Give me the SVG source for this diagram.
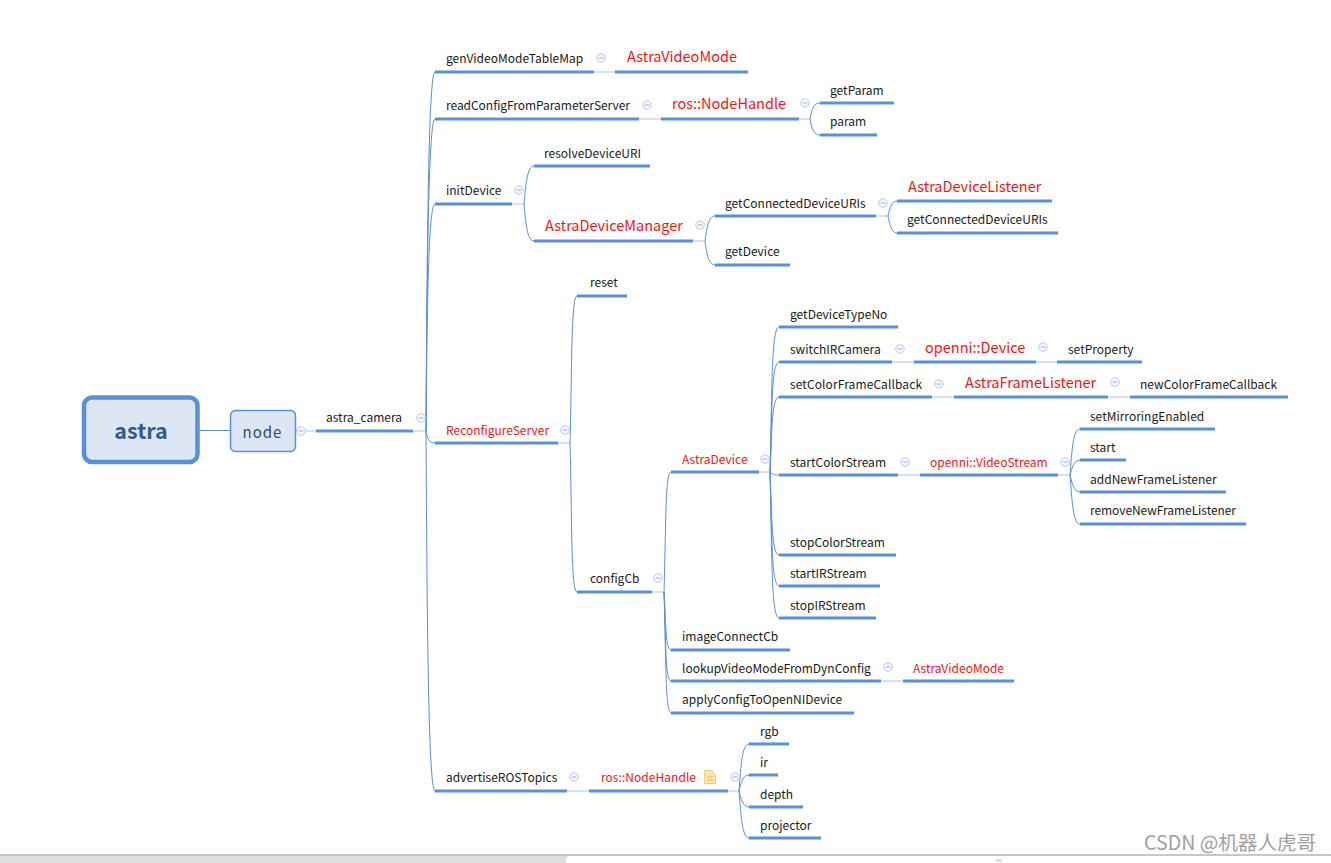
<svg xmlns="http://www.w3.org/2000/svg" xmlns:xlink="http://www.w3.org/1999/xlink" width="1331" height="863" viewBox="0 0 1331 863">
<style>
text{font-family:"Noto Sans CJK SC","Noto Sans",sans-serif;font-size:12px;fill:#1a1a1a}
.r{fill:#ff1010}
.b{font-size:14.500px}
.u{stroke:#5a8fd9;stroke-width:3;fill:none}
.c{stroke:#5a8fd9;stroke-width:1;fill:none}
.l{stroke:#a9c6ec;stroke-width:1.2;fill:none}
</style>
<defs>
<g id="m"><circle r="4.3" fill="#f4f6fb" stroke="#bccbe8" stroke-width="1"/><path d="M-2.3 0H2.3" stroke="#9db2dc" stroke-width="1"/></g>
</defs>
<rect width="1331" height="863" fill="#fff"/>
<g id="connectors">
<path class="c" d="M199 430.500H230"/>
<path class="l" d="M296 431H316M413 431H426"/>
<g id="c-camera"><path class="c" d="M426 431C427 270 428 72 435 72"/><path class="c" d="M426 431C427 290 428 119 435 119"/><path class="c" d="M426 431C427 320 428 204 435 204"/><path class="c" d="M426 431C427 438 429 443 435 443"/><path class="c" d="M426 431C427 600 428 791 435 791"/></g>
<path class="l" d="M594 72H615M639 119H661M799 119H810M512 204H524M558 443H570M652 592H664M759 472H770M876 216H888M693 241H705M892 362H914M1036 362H1057M932 397H954M1108 397H1130M898 475H920M1058 475H1070M881 681H903M567 791H589M728 791H739"/>
<path class="c" d="M810 119C812 108 814 103 820 103M810 119C812 130 814 135 820 135"/>
<path class="c" d="M524 204C526 180 528 166 534 166M524 204C526 228 528 241 534 241"/>
<path class="c" d="M705 241C707 226 709 216 715 216M705 241C707 256 709 265 715 265"/>
<path class="c" d="M888 216C890 207 892 201 897 201M888 216C890 226 892 233 897 233"/>
<path class="c" d="M570 443C572 370 571 296 577 296M570 443C572 520 571 592 577 592"/>
<path class="c" d="M664 592C666 530 665 472 671 472M664 592C666 620 665 650 671 650M664 592C666 640 665 681 671 681M664 592C666 650 665 713 671 713"/>
<path class="c" d="M770 472C772 400 771 327 779 327M770 472C772 420 771 362 779 362M770 472C772 440 771 397 779 397M770 472C772 474 774 475 779 475M770 472C772 510 771 555 779 555M770 472C772 530 771 586 779 586M770 472C772 550 771 618 779 618"/>
<path class="c" d="M1070 475C1072 450 1073 429 1080 429M1070 475C1072 468 1074 460 1080 460M1070 475C1072 483 1074 492 1080 492M1070 475C1072 500 1073 524 1080 524"/>
<path class="c" d="M739 791C741 765 742 744 749 744M739 791C741 783 743 775 749 775M739 791C741 799 743 807 749 807M739 791C741 815 742 838 749 838"/>
</g>
<g id="astra"><rect x="84" y="397.500" width="113.500" height="64.500" rx="8" fill="#dde6f3" stroke="#5a8fd9" stroke-width="4.500"/><text x="141" y="438.500" text-anchor="middle" style="font-size:21.500px;font-weight:700;fill:#2f5b8f">astra</text></g>
<g id="node"><rect x="230.500" y="410.500" width="65" height="41" rx="5" fill="#dde6f3" stroke="#5a8fd9" stroke-width="1.500"/><text x="262.500" y="437.500" text-anchor="middle" style="font-size:15px;fill:#2f4a75;letter-spacing:1px">node</text><use href="#m" x="301" y="431"/></g>
<g id="astra_camera"><text x="326" y="422">astra_camera</text><path class="u" d="M316 431H413"/><use href="#m" x="421" y="418"/></g>
<g id="genVideoModeTableMap"><text x="446" y="63">genVideoModeTableMap</text><path class="u" d="M435 72H594"/><use href="#m" x="601" y="58"/></g>
<g id="AstraVideoMode1"><text class="r b" x="627" y="62">AstraVideoMode</text><path class="u" d="M615 72H748"/></g>
<g id="readConfig"><text x="446" y="110" textLength="184">readConfigFromParameterServer</text><path class="u" d="M435 119H639"/><use href="#m" x="647" y="105"/></g>
<g id="NodeHandle1"><text class="r b" x="672" y="109">ros::NodeHandle</text><path class="u" d="M661 119H799"/><use href="#m" x="805" y="103"/></g>
<g id="getParam"><text x="830" y="95">getParam</text><path class="u" d="M820 103H894"/></g>
<g id="param"><text x="830" y="126">param</text><path class="u" d="M820 135H877"/></g>
<g id="initDevice"><text x="446" y="195">initDevice</text><path class="u" d="M435 204H512"/><use href="#m" x="519" y="190"/></g>
<g id="resolveDeviceURI"><text x="544" y="158">resolveDeviceURI</text><path class="u" d="M534 166H650"/></g>
<g id="AstraDeviceManager"><text class="r b" x="545" y="231">AstraDeviceManager</text><path class="u" d="M534 241H693"/><use href="#m" x="700" y="225"/></g>
<g id="getConnected1"><text x="725" y="208">getConnectedDeviceURIs</text><path class="u" d="M715 216H876"/><use href="#m" x="883" y="203"/></g>
<g id="AstraDeviceListener"><text class="r b" x="908" y="192">AstraDeviceListener</text><path class="u" d="M897 201H1052"/></g>
<g id="getConnected2"><text x="907" y="224">getConnectedDeviceURIs</text><path class="u" d="M897 233H1058"/></g>
<g id="getDevice"><text x="725" y="256">getDevice</text><path class="u" d="M715 265H790"/></g>
<g id="ReconfigureServer"><text class="r" x="446" y="435">ReconfigureServer</text><path class="u" d="M435 443H558"/><use href="#m" x="565" y="430"/></g>
<g id="reset"><text x="590" y="287">reset</text><path class="u" d="M577 296H627"/></g>
<g id="configCb"><text x="590" y="583">configCb</text><path class="u" d="M577 592H652"/><use href="#m" x="658" y="578"/></g>
<g id="AstraDevice"><text class="r" x="682" y="464">AstraDevice</text><path class="u" d="M671 472H759"/><use href="#m" x="765" y="459"/></g>
<g id="getDeviceTypeNo"><text x="790" y="319">getDeviceTypeNo</text><path class="u" d="M779 327H898"/></g>
<g id="switchIRCamera"><text x="790" y="354">switchIRCamera</text><path class="u" d="M779 362H892"/><use href="#m" x="900" y="349"/></g>
<g id="openniDevice"><text class="r b" x="925" y="353">openni::Device</text><path class="u" d="M914 362H1036"/><use href="#m" x="1043" y="347"/></g>
<g id="setProperty"><text x="1068" y="354">setProperty</text><path class="u" d="M1057 362H1142"/></g>
<g id="setColorFrameCallback"><text x="790" y="389" textLength="132">setColorFrameCallback</text><path class="u" d="M779 397H932"/><use href="#m" x="939" y="384"/></g>
<g id="AstraFrameListener"><text class="r b" x="965" y="388">AstraFrameListener</text><path class="u" d="M954 397H1108"/><use href="#m" x="1115" y="382"/></g>
<g id="newColorFrameCallback"><text x="1140" y="389">newColorFrameCallback</text><path class="u" d="M1130 397H1288"/></g>
<g id="startColorStream"><text x="790" y="467">startColorStream</text><path class="u" d="M779 475H898"/><use href="#m" x="905" y="462"/></g>
<g id="openniVideoStream"><text class="r" x="930" y="467">openni::VideoStream</text><path class="u" d="M920 475H1058"/><use href="#m" x="1065" y="462"/></g>
<g id="setMirroringEnabled"><text x="1090" y="421">setMirroringEnabled</text><path class="u" d="M1080 429H1215"/></g>
<g id="start"><text x="1090" y="452">start</text><path class="u" d="M1080 460H1126"/></g>
<g id="addNewFrameListener"><text x="1090" y="484">addNewFrameListener</text><path class="u" d="M1080 492H1226"/></g>
<g id="removeNewFrameListener"><text x="1090" y="515" textLength="146">removeNewFrameListener</text><path class="u" d="M1080 524H1246"/></g>
<g id="stopColorStream"><text x="790" y="547">stopColorStream</text><path class="u" d="M779 555H896"/></g>
<g id="startIRStream"><text x="790" y="578">startIRStream</text><path class="u" d="M779 586H880"/></g>
<g id="stopIRStream"><text x="790" y="610">stopIRStream</text><path class="u" d="M779 618H876"/></g>
<g id="imageConnectCb"><text x="682" y="641">imageConnectCb</text><path class="u" d="M671 650H790"/></g>
<g id="lookupVideoMode"><text x="682" y="673">lookupVideoModeFromDynConfig</text><path class="u" d="M671 681H881"/><use href="#m" x="888" y="667"/></g>
<g id="AstraVideoMode2"><text class="r" x="913" y="673">AstraVideoMode</text><path class="u" d="M903 681H1014"/></g>
<g id="applyConfig"><text x="682" y="704">applyConfigToOpenNIDevice</text><path class="u" d="M671 713H854"/></g>
<g id="advertiseROSTopics"><text x="446" y="782">advertiseROSTopics</text><path class="u" d="M435 791H567"/><use href="#m" x="574" y="777"/></g>
<g id="NodeHandle2"><text class="r" x="601" y="782" textLength="95">ros::NodeHandle</text><path class="u" d="M589 791H728"/><path d="M704.500 770.500H711.500L715.500 774.500V783.500H704.500Z" fill="#fde6a8" stroke="#f3cd6e"/><path d="M707 777H713M707 780H713" stroke="#e8b94f"/><use href="#m" x="735" y="777"/></g>
<g id="rgb"><text x="760" y="736">rgb</text><path class="u" d="M749 744H789"/></g>
<g id="ir"><text x="760" y="767">ir</text><path class="u" d="M749 775H778"/></g>
<g id="depth"><text x="760" y="799">depth</text><path class="u" d="M749 807H803"/></g>
<g id="projector"><text x="760" y="830">projector</text><path class="u" d="M749 838H821"/></g>
<rect y="856" width="1331" height="7" fill="#dededc"/>
<path d="M0 855H1331" stroke="#b5b5b0" stroke-width="1.500"/>
<path d="M566 863V860Q566 856 571 856H1331V863Z" fill="#fff"/>
<path d="M997 859V862M999 859V862M1001 859V862" stroke="#aaa" stroke-width=".7"/>
<text x="1144" y="850" style="font-size:19.600px;fill:#a0a0a0">CSDN @机器人虎哥</text>
</svg>
